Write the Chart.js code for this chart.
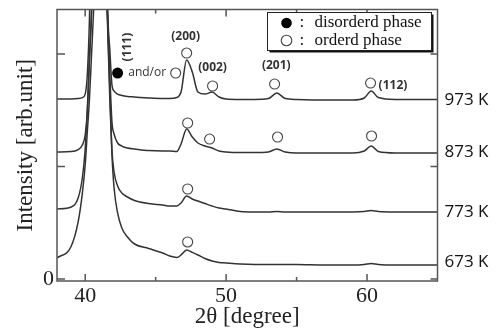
<!DOCTYPE html>
<html>
<head>
<meta charset="utf-8">
<script src="https://cdn.jsdelivr.net/npm/chart.js@4/dist/chart.umd.min.js"></script>
<style>
  html, body { margin: 0; padding: 0; background: #fff; }
</style>
</head>
<body>
<canvas id="chart" width="500" height="333"></canvas>
<script>
// 2theta sampling (degree), shared by all four scans
var twoTheta = [38.0, 39.0, 39.5, 39.8, 40.0, 40.15, 40.3, 40.45, 40.6, 41.0,
                41.4, 41.6, 41.75, 41.9, 42.05, 42.3, 42.6, 43.0, 43.5, 44.5,
                45.5, 46.0, 46.5, 46.8, 47.2, 47.6, 48.0, 48.5, 49.0, 49.5,
                50.0, 51.0, 52.0, 53.0, 53.6, 54.2, 55.0, 57.0, 59.0, 59.8,
                60.3, 60.8, 62.0, 65.0];

// intensity (arb. unit, offset stacked)
var int973 = [1.600, 1.600, 1.604, 1.613, 1.644, 1.813, 2.302, 3.2, 4.0, 5.0,
              4.0, 2.391, 2.036, 1.724, 1.671, 1.644, 1.631, 1.622, 1.618, 1.609,
              1.604, 1.604, 1.613, 1.662, 1.947, 1.840, 1.662, 1.644, 1.662, 1.618,
              1.600, 1.596, 1.596, 1.604, 1.653, 1.604, 1.596, 1.591, 1.591, 1.609,
              1.671, 1.613, 1.596, 1.596];
var int873 = [1.129, 1.133, 1.151, 1.191, 1.280, 1.480, 1.947, 2.391, 3.0, 4.0,
              3.0, 2.302, 1.813, 1.396, 1.289, 1.209, 1.182, 1.164, 1.156, 1.142,
              1.138, 1.138, 1.133, 1.200, 1.333, 1.262, 1.209, 1.182, 1.164, 1.138,
              1.129, 1.124, 1.124, 1.129, 1.156, 1.129, 1.120, 1.120, 1.120, 1.138,
              1.182, 1.133, 1.120, 1.120];
var int773 = [0.622, 0.640, 0.720, 0.900, 1.155, 1.505, 1.947, 2.347, 3.0, 4.0,
              3.0, 2.258, 1.680, 1.147, 0.951, 0.827, 0.764, 0.729, 0.698, 0.671,
              0.658, 0.649, 0.649, 0.676, 0.738, 0.711, 0.693, 0.671, 0.649, 0.631,
              0.622, 0.600, 0.596, 0.596, 0.600, 0.596, 0.596, 0.596, 0.596, 0.600,
              0.609, 0.600, 0.596, 0.596];
var int673 = [0.187, 0.289, 0.507, 0.764, 1.013, 1.307, 1.591, 1.991, 2.391, 3.5,
              3.0, 2.213, 1.591, 1.102, 0.809, 0.587, 0.453, 0.373, 0.311, 0.271,
              0.231, 0.204, 0.191, 0.213, 0.258, 0.236, 0.213, 0.182, 0.160, 0.147,
              0.142, 0.133, 0.129, 0.129, 0.129, 0.129, 0.129, 0.124, 0.124, 0.129,
              0.138, 0.129, 0.124, 0.124];

var temps = ['973 K', '873 K', '773 K', '673 K'];
var tempLevels = [1.594, 1.129, 0.591, 0.147];

// peak markers
var orderedTheta = [46.42, 47.20, 49.04, 53.44, 60.25, 47.27, 48.83, 53.65, 60.32, 47.27, 47.27];
var orderedInt   = [1.831, 2.009, 1.716, 1.733, 1.742, 1.387, 1.244, 1.262, 1.271, 0.800, 0.329];
var disorderedTheta = [42.30];
var disorderedInt   = [1.831];

// peak indices
var peakLabels = ['(111)', '(200)', '(002)', '(201)', '(112)'];
var peakLabelTheta = [43.01, 47.13, 49.04, 53.56, 61.84];
var peakLabelInt   = [2.062, 2.151, 1.880, 1.893, 1.720];

var xTicks = [40, 45, 50, 55, 60];
var yTicks = [0, 1, 2];

function pts(xs, ys) {
    return xs.map(function(x, i) { return {x: x, y: ys[i]}; });
}

function scan(values) {
    return {
        data: pts(twoTheta, values),
        borderColor: '#333',
        borderWidth: 1.5,
        pointRadius: 0,
        fill: false,
        cubicInterpolationMode: 'monotone'
    };
}

var serif = 'Liberation Serif';
var sans = 'Open Sans';

var decorations = {
    id: 'decorations',
    afterDatasetsDraw: function(chart) {
        var ctx = chart.ctx, a = chart.chartArea;
        var xs = chart.scales.x, ys = chart.scales.y;
        ctx.save();

        // frame
        ctx.strokeStyle = '#555';
        ctx.lineWidth = 1.5;
        ctx.strokeRect(a.left, a.top, a.right - a.left, a.bottom - a.top);

        // inward ticks on all four sides
        ctx.beginPath();
        xTicks.forEach(function(v) {
            var px = xs.getPixelForValue(v);
            var len = v % 10 === 0 ? 7 : 4;
            ctx.moveTo(px, a.bottom); ctx.lineTo(px, a.bottom - len);
            ctx.moveTo(px, a.top); ctx.lineTo(px, a.top + len);
        });
        yTicks.forEach(function(v) {
            var py = ys.getPixelForValue(v);
            ctx.moveTo(a.left, py); ctx.lineTo(a.left + 8, py);
            ctx.moveTo(a.right, py); ctx.lineTo(a.right - 7, py);
        });
        ctx.stroke();

        // peak indices
        ctx.fillStyle = '#333';
        ctx.font = 'bold 12px "' + sans + '"';
        ctx.textAlign = 'center';
        ctx.textBaseline = 'middle';
        peakLabels.forEach(function(t, i) {
            var px = xs.getPixelForValue(peakLabelTheta[i]);
            var py = ys.getPixelForValue(peakLabelInt[i]);
            if (t === '(111)') {
                ctx.save();
                ctx.translate(px, py);
                ctx.rotate(-Math.PI / 2);
                ctx.fillText(t, 0, 0);
                ctx.restore();
            } else {
                ctx.fillText(t, px, py);
            }
        });
        ctx.font = '12px "' + sans + '"';
        ctx.fillText('and/or', xs.getPixelForValue(44.40), ys.getPixelForValue(1.831));

        // legend box
        var bx = a.right - 170, by = a.top + 3, bw = 164, bh = 38;
        ctx.fillStyle = '#111';
        ctx.fillRect(bx + 2, by + 2, bw, bh);
        ctx.fillStyle = '#fff';
        ctx.fillRect(bx, by, bw, bh);
        ctx.strokeStyle = '#222';
        ctx.lineWidth = 1;
        ctx.strokeRect(bx, by, bw, bh);

        ctx.fillStyle = '#000';
        ctx.beginPath();
        ctx.arc(bx + 19, by + 10.5, 5.3, 0, 2 * Math.PI);
        ctx.fill();
        ctx.fillStyle = '#fff';
        ctx.strokeStyle = '#444';
        ctx.lineWidth = 1.1;
        ctx.beginPath();
        ctx.arc(bx + 19, by + 28, 5.3, 0, 2 * Math.PI);
        ctx.fill();
        ctx.stroke();

        ctx.fillStyle = '#111';
        ctx.font = '17px "' + serif + '"';
        ctx.textAlign = 'left';
        ctx.fillText(':', bx + 32, by + 10.5);
        ctx.fillText('disorderd phase', bx + 47, by + 10.5);
        ctx.fillText(':', bx + 32, by + 28);
        ctx.fillText('orderd phase', bx + 47, by + 28);

        ctx.restore();
    }
};

var chart = new Chart(document.getElementById('chart').getContext('2d'), {
    type: 'line',
    data: {
        datasets: [
            scan(int973),
            scan(int873),
            scan(int773),
            scan(int673),
            {
                type: 'scatter',
                data: pts(orderedTheta, orderedInt),
                pointStyle: 'circle',
                pointRadius: 5,
                pointBorderWidth: 1.1,
                pointBorderColor: '#444',
                pointBackgroundColor: '#fff',
                showLine: false
            },
            {
                type: 'scatter',
                data: pts(disorderedTheta, disorderedInt),
                pointStyle: 'circle',
                pointRadius: 5.5,
                pointBorderWidth: 0,
                pointBackgroundColor: '#000',
                showLine: false
            }
        ]
    },
    options: {
        responsive: false,
        animation: false,
        devicePixelRatio: 1,
        layout: { padding: { top: 9.5, left: 0, right: 0, bottom: 0 } },
        plugins: {
            legend: { display: false },
            tooltip: { enabled: false }
        },
        scales: {
            x: {
                type: 'linear',
                min: 38,
                max: 65,
                grid: { display: false, drawTicks: false },
                border: { display: false },
                afterBuildTicks: function(s) {
                    s.ticks = xTicks.map(function(v) { return {value: v}; });
                },
                afterFit: function(s) {
                    s.height = 52;
                    s.paddingLeft = 0;
                    s.paddingRight = 0;
                },
                ticks: {
                    autoSkip: false,
                    maxRotation: 0,
                    padding: 2,
                    color: '#222',
                    font: { family: serif, size: 22 },
                    callback: function(v) { return v % 10 === 0 ? String(v) : ''; }
                },
                title: {
                    display: true,
                    text: '2\u03b8 [degree]',
                    color: '#222',
                    font: { family: serif, size: 23 },
                    padding: { top: 0, bottom: 2 }
                }
            },
            y: {
                type: 'linear',
                position: 'left',
                min: -0.018,
                max: 2.396,
                grid: { display: false, drawTicks: false },
                border: { display: false },
                afterBuildTicks: function(s) {
                    s.ticks = yTicks.map(function(v) { return {value: v}; });
                },
                afterFit: function(s) {
                    s.width = 57;
                    s.paddingTop = 0;
                    s.paddingBottom = 0;
                },
                ticks: {
                    autoSkip: false,
                    padding: 3,
                    color: '#222',
                    font: { family: serif, size: 22 },
                    callback: function(v) { return v === 0 ? '0' : ''; }
                },
                title: {
                    display: true,
                    text: 'Intensity [arb.unit]',
                    color: '#222',
                    font: { family: serif, size: 23 },
                    padding: { top: 12, bottom: 0 }
                }
            },
            y2: {
                type: 'linear',
                position: 'right',
                min: -0.018,
                max: 2.396,
                grid: { display: false, drawTicks: false },
                border: { display: false },
                afterBuildTicks: function(s) {
                    s.ticks = tempLevels.map(function(v) { return {value: v}; });
                },
                afterFit: function(s) {
                    s.width = 62.5;
                    s.paddingTop = 0;
                    s.paddingBottom = 0;
                },
                ticks: {
                    autoSkip: false,
                    padding: 7,
                    color: '#111',
                    font: { family: sans, size: 17 },
                    callback: function(v) {
                        var i = tempLevels.indexOf(v);
                        return i >= 0 ? temps[i] : '';
                    }
                }
            }
        }
    },
    plugins: [decorations]
});
</script>
</body>
</html>
